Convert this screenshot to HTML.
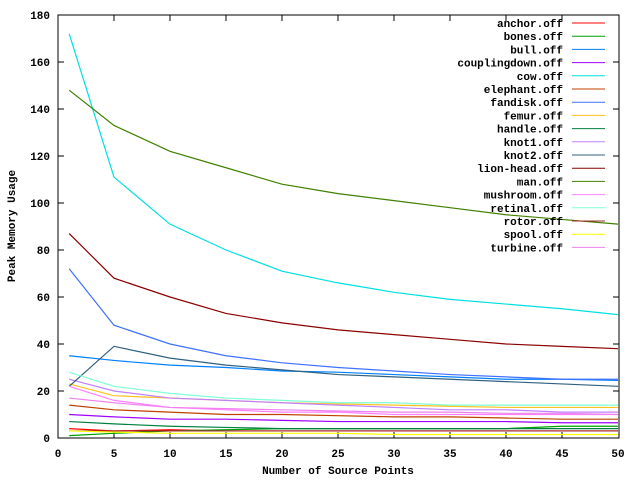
<!DOCTYPE html><html><head><style>body{margin:0;background:#fff}svg{display:block}text{font-family:"Liberation Mono",monospace;font-size:11px;font-weight:bold;fill:#000}</style></head><body>
<svg width="640" height="480" viewBox="0 0 640 480">
<rect x="58" y="15" width="561" height="423" fill="none" stroke="#000"/>
<g stroke="#000">
<path d="M58,438h6M58,391h6M58,344h6M58,297h6M58,250h6M58,203h6M58,156h6M58,109h6M58,62h6M619,391h-6M619,344h-6M619,297h-6M619,250h-6M619,203h-6M619,156h-6M619,109h-6M619,62h-6"/>
<path d="M114,438v-6M170,438v-6M226,438v-6M282,438v-6M338,438v-6M394,438v-6M450,438v-6M506,438v-6M562,438v-6M114,15v6M170,15v6M226,15v6M282,15v6M338,15v6M394,15v6M450,15v6M506,15v6M562,15v6"/>
</g>
<g text-anchor="end">
<text x="50" y="442">0</text><text x="50" y="395">20</text><text x="50" y="348">40</text><text x="50" y="301">60</text><text x="50" y="254">80</text><text x="50" y="207">100</text><text x="50" y="160">120</text><text x="50" y="113">140</text><text x="50" y="66">160</text><text x="50" y="19">180</text>
</g>
<g text-anchor="middle">
<text x="58" y="457">0</text><text x="114" y="457">5</text><text x="170" y="457">10</text><text x="226" y="457">15</text><text x="282" y="457">20</text><text x="338" y="457">25</text><text x="394" y="457">30</text><text x="450" y="457">35</text><text x="506" y="457">40</text><text x="562" y="457">45</text><text x="618" y="457">50</text>
<text x="338" y="474">Number of Source Points</text>
<text transform="translate(15,226) rotate(-90)">Peak Memory Usage</text>
</g>
<g fill="none" stroke-width="1.2" id="d"></g>
<script>
var xs=[1,5,10,15,20,25,30,35,40,45,50];
var S=[
["anchor","#ff0000",[4,3,3.5,3,3,3,3,3,3,3,3]],
["bones","#00a000",[1,2,3,3.5,4,4,4,4,4,5,5]],
["bull","#0080ff",[35,33,31,30,28.5,28,27,26,25,25,24.5]],
["couplingdown","#a000ff",[10,9,8,8,7.5,7,7,7,7,6.5,6.5]],
["cow","#00e0e0",[172,111,91,80,71,66,62,59,57,55,52.5]],
["elephant","#c04000",[14,12,11,10,10,9.5,9,9,8.5,8,8]],
["fandisk","#4070ff",[72,48,40,35,32,30,28.5,27,26,25,25]],
["femur","#ffc020",[23,18,17,16,15,14.5,14,13.5,13,13,13]],
["handle","#008040",[7,6,5,4.5,4,4,4,4,4,4,4]],
["knot1","#c080ff",[25,20,17,16,15,14,13,12,12,11,11]],
["knot2","#306080",[22,39,34,31,29,27,26,25,24,23,22]],
["lion-head","#8b0000",[87,68,60,53,49,46,44,42,40,39,38]],
["man","#408000",[148,133,122,115,108,104,101,98,95,93,91]],
["mushroom","#ff80ff",[22,16,13,12,11,11,10,10,10,10,10]],
["retinal","#7fffd4",[28,22,19,17,16,15,15,14,14,14,14]],
["rotor","#a52a2a",[3,3,3,3,3,3,3,3,3,3,3]],
["spool","#ffff00",[3,2.5,2,2,2,2,1.5,1.5,1.5,1.5,1.5]],
["turbine","#ee82ee",[17,15,13,12.5,12,11.5,11,11,10.5,10.5,10]]];
var g=document.getElementById('d'),ns="http://www.w3.org/2000/svg",svg=g.parentNode;
S.forEach(function(s,i){var p=document.createElementNS(ns,'polyline');
p.setAttribute('points',xs.map(function(x,j){return (58+11.2*x)+','+(438-2.35*s[2][j])}).join(' '));
p.setAttribute('stroke',s[1]);g.appendChild(p);
var y=23+13.2*i;var t=document.createElementNS(ns,'text');t.setAttribute('x',563);t.setAttribute('y',y+4);t.setAttribute('text-anchor','end');t.textContent=s[0]+'.off';svg.appendChild(t);
var l=document.createElementNS(ns,'line');l.setAttribute('x1',572);l.setAttribute('x2',605);l.setAttribute('y1',y);l.setAttribute('y2',y);l.setAttribute('stroke',s[1]);svg.appendChild(l);});
</script>
</svg></body></html>
